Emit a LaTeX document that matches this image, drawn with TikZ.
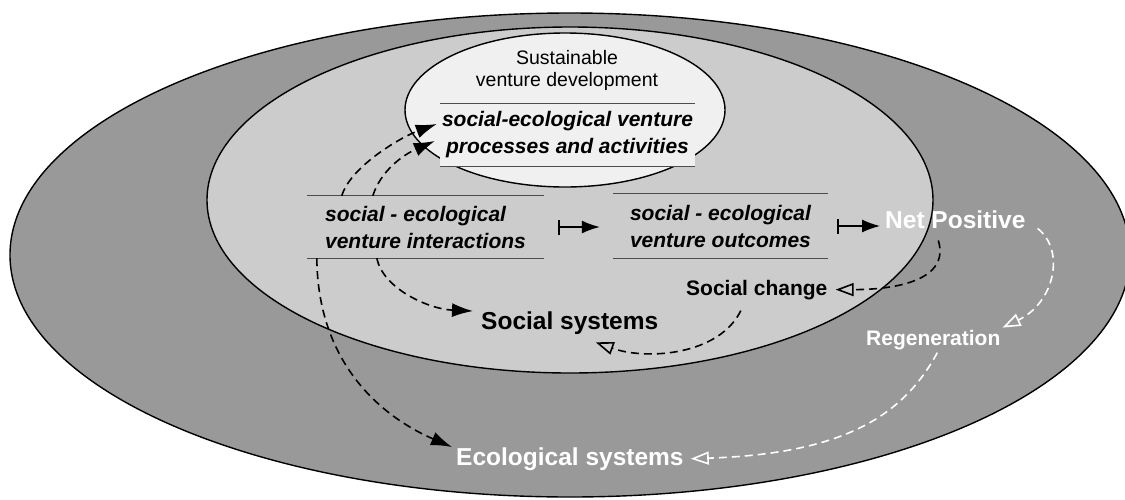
\documentclass[tikz,border=0pt]{standalone}
\usepackage{fontspec}
\setmainfont{Liberation Sans}
\usetikzlibrary{arrows.meta}
\definecolor{outerfill}{HTML}{999999}
\definecolor{midfill}{HTML}{CCCCCC}
\definecolor{innerfill}{HTML}{F0F0F0}
\definecolor{rulegray}{HTML}{4D4D4D}
\begin{document}
\begin{tikzpicture}[x=1pt,y=-1pt,
  ring/.style={draw=black, line width=1.4pt},
  boxtext/.style={font=\fontsize{21pt}{27pt}\selectfont\bfseries\itshape, align=left, inner sep=0pt},
  rule/.style={draw=rulegray, line width=1pt},
  lbl/.style={inner sep=0pt, anchor=base west},
  bigtext/.style={lbl, font=\fontsize{24.5pt}{29pt}\selectfont\bfseries},
  midtext/.style={lbl, font=\fontsize{21pt}{26pt}\selectfont\bfseries},
  mapsto/.style={draw=black, line width=1.4pt, {Bar[width=15pt]}-{Latex[length=18pt,width=13pt]}},
  flowblack/.style={draw=black, line width=1.6pt, dash pattern=on 8pt off 5pt},
  flowwhite/.style={draw=white, line width=1.6pt, dash pattern=on 8pt off 5pt},
  solidtip/.style={-{Latex[length=21pt,width=14pt]}},
  opentip/.style={-{Triangle[open,length=18pt,width=13pt]}}
]
\useasboundingbox (0,0) rectangle (1125,499);
% rings
\draw[ring, fill=outerfill] (570,255) ellipse [x radius=560pt, y radius=242pt];
\draw[ring, fill=midfill] (570,200) ellipse [x radius=363pt, y radius=173pt];
\draw[ring, fill=innerfill] (565,110) ellipse [x radius=160pt, y radius=77pt];
% texts
\node[inner sep=0pt, align=center, font=\fontsize{19.5pt}{22pt}\selectfont, anchor=north] (sv) at (567,50) {Sustainable\\venture development};
\node[boxtext, align=center, fill=innerfill, minimum width=255pt, minimum height=62pt] (pb) at (567.5,135) {social-ecological venture\\processes and activities};
\draw[rule] (pb.north west) -- (pb.north east);
\draw[rule] (pb.south west) -- (pb.south east);
\node[boxtext, minimum width=237pt, minimum height=62pt] (ib) at (425.5,227) {social - ecological\\venture interactions};
\draw[rule] (ib.north west) -- (ib.north east);
\draw[rule] (ib.south west) -- (ib.south east);
\node[boxtext, minimum width=215pt, minimum height=64pt] (ob) at (720.5,226) {social - ecological\\venture outcomes};
\draw[rule] (ob.north west) -- (ob.north east);
\draw[rule] (ob.south west) -- (ob.south east);
\node[bigtext, text=black] (ss) at (481,329) {Social systems};
\node[bigtext, text=white] (es) at (456,465) {Ecological systems};
\node[bigtext, text=white] (np) at (885,228) {Net Positive};
\node[midtext, text=black] (sc) at (686,295) {Social change};
\node[midtext, text=white] (rg) at (866,345) {Regeneration};
% mapsto arrows
\draw[mapsto, shorten <=14pt, shorten >=13pt] (ib.east) -- (ib.east -| ob.west);
\draw[mapsto, shorten <=9pt, shorten >=5pt] (ob.east) -- (ob.east -| np.west);
% dashed connectors
\draw[flowblack, solidtip] ([xshift=35pt]ib.north west) .. controls +(8,-28) and +(-38,14) .. ([xshift=-3pt,yshift=11pt]pb.west);
\draw[flowblack, solidtip] ([xshift=66pt]ib.north west) .. controls +(8,-25) and +(-32,14) .. ([xshift=-5pt,yshift=-6pt]pb.west);
\draw[flowblack, solidtip] ([xshift=70pt]ib.south west) .. controls +(6,30) and +(-45,-2) .. ([xshift=-8pt]ss.north west);
\draw[flowblack, solidtip] ([xshift=10pt]ib.south west) .. controls +(1,110) and +(-65,-28) .. ([xshift=-4pt]es.north west);
\draw[flowblack, opentip] ([xshift=-16pt,yshift=-11pt]sc.south) .. controls +(-22,45) and +(50,18) .. ([xshift=26pt,yshift=-8pt]ss.south);
\draw[flowblack, opentip] ([xshift=-17pt,yshift=-12pt]np.south) .. controls +(12,40) and +(60,0) .. ([xshift=8pt]sc.east);
\draw[flowwhite, opentip] ([xshift=12pt]np.south east) .. controls +(28,22) and +(52,-25) .. ([xshift=2pt,yshift=2pt]rg.north east);
\draw[flowwhite, opentip] ([xshift=4pt,yshift=-3pt]rg.south) .. controls +(-35,65) and +(150,-5) .. ([xshift=7pt]es.east);
\end{tikzpicture}
\end{document}
